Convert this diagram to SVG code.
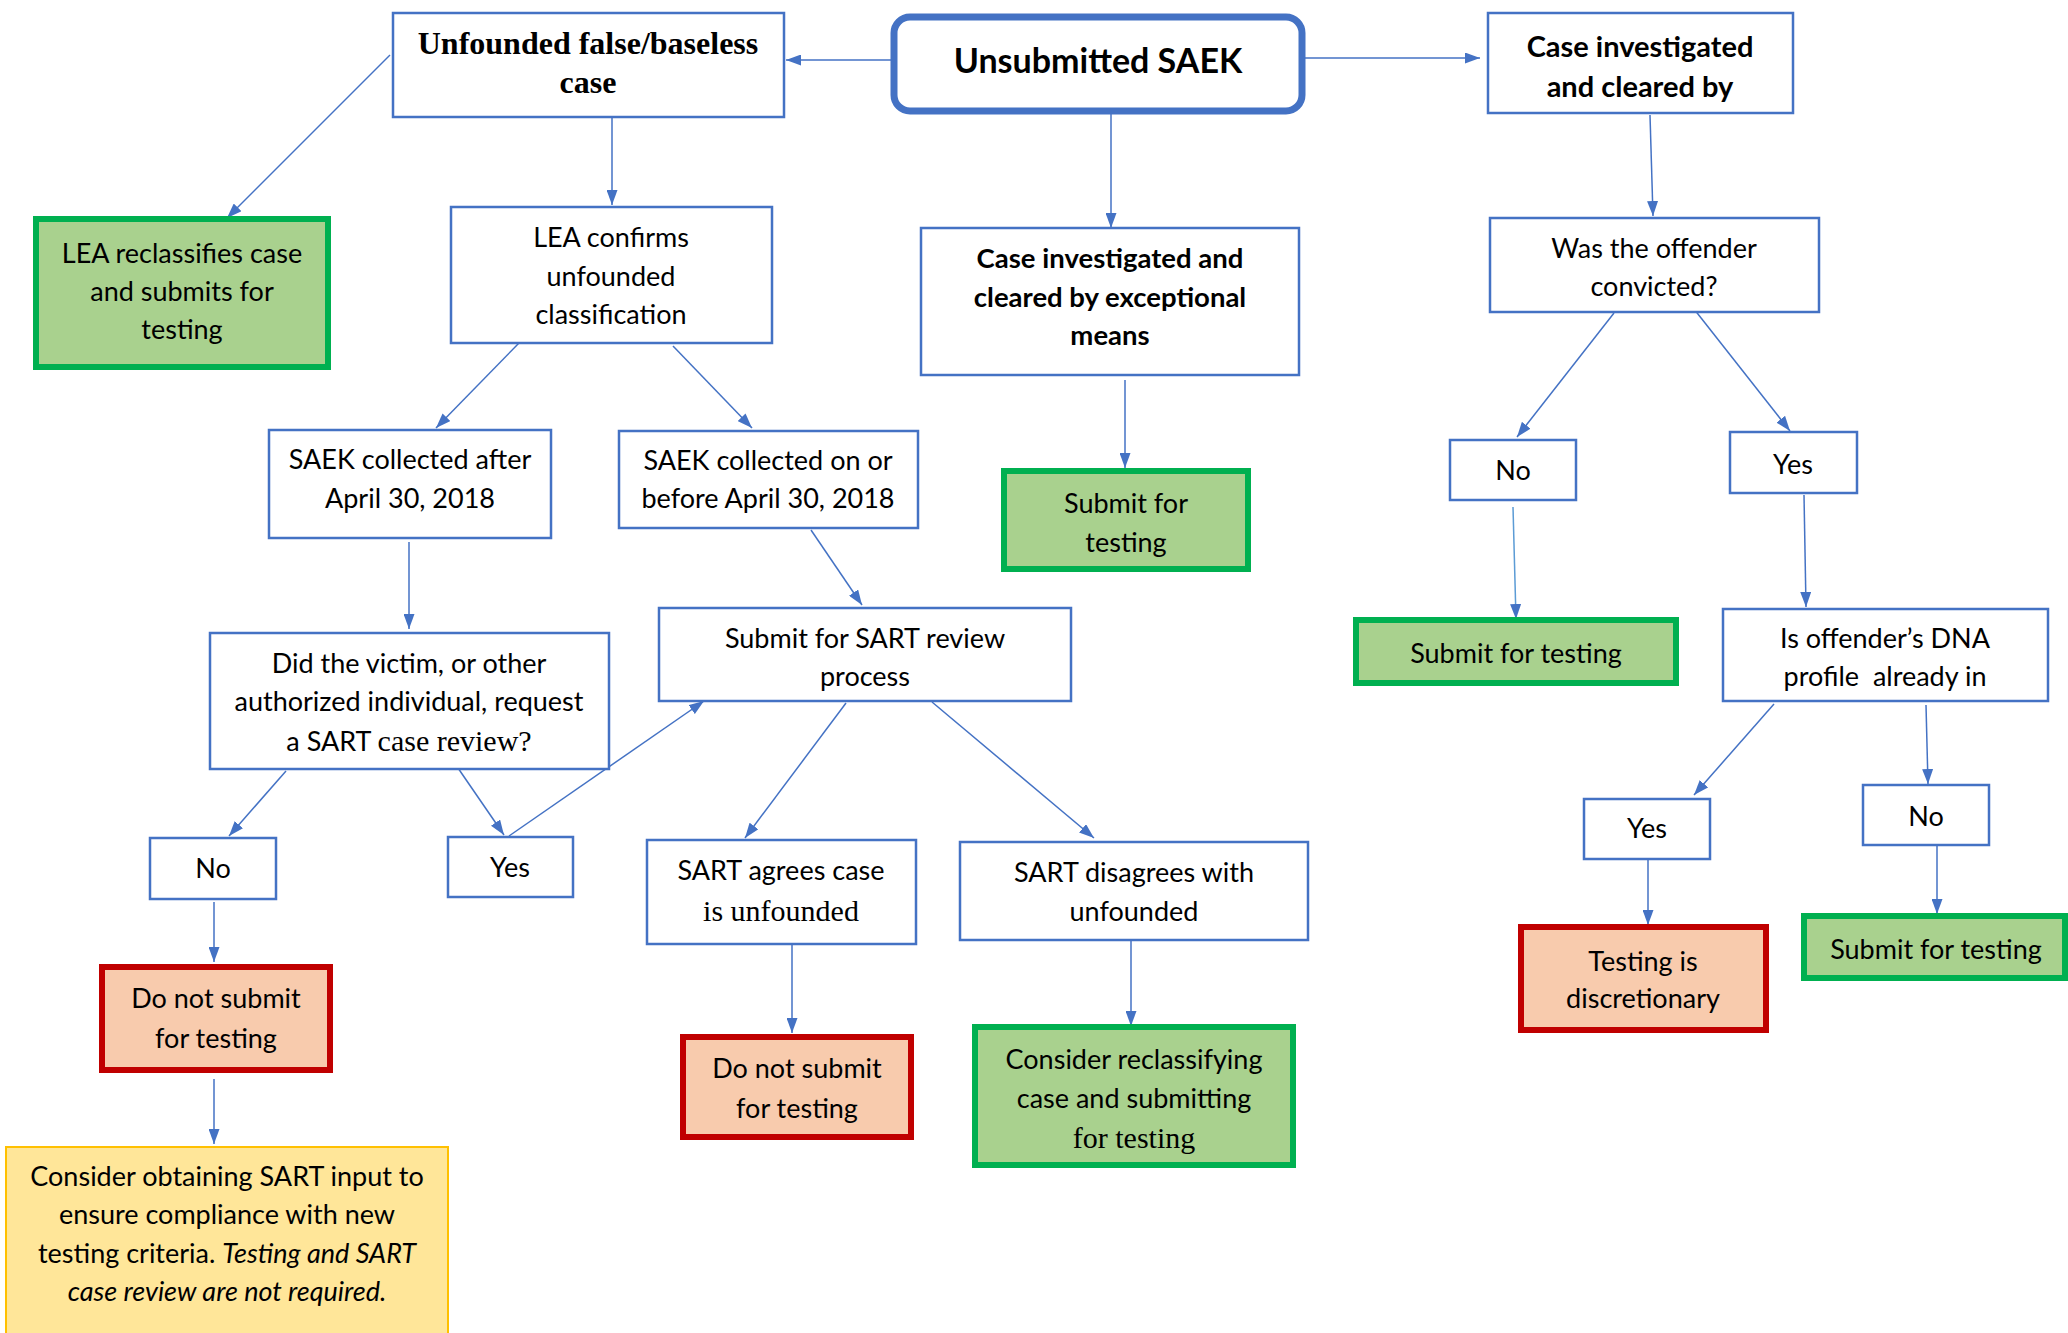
<svg xmlns="http://www.w3.org/2000/svg" width="2068" height="1333" viewBox="0 0 2068 1333">
<style>
.box{fill:#fff;stroke:#4472C4;stroke-width:2.5}
.start{fill:#fff;stroke:#4472C4;stroke-width:7}
.green{fill:#A9D18E;stroke:#00B050;stroke-width:6}
.red{fill:#F8CBAD;stroke:#C00000;stroke-width:6}
.yellow{fill:#FFE699;stroke:#FFC000;stroke-width:2}
text{font-family:Lato,"Liberation Sans",sans-serif;font-size:27px;fill:#000;text-anchor:middle}
.b{font-weight:bold;font-size:29px}
.serif{font-family:"Liberation Serif",serif}
.conn line{stroke:#4472C4;stroke-width:1.5;marker-end:url(#arr)}
</style>
<defs>
<marker id="arr" markerUnits="userSpaceOnUse" markerWidth="15" markerHeight="11" refX="15" refY="5.5" orient="auto">
<path d="M0,0 L15,5.5 L0,11 z" fill="#4472C4"/>
</marker>
</defs>
<rect width="2068" height="1333" fill="#fff"/>
<g class="conn">
<line x1="894" y1="60" x2="786" y2="60"/>
<line x1="1305" y1="58" x2="1480" y2="58"/>
<line x1="1111" y1="113" x2="1111" y2="228"/>
<line x1="390" y1="55" x2="227" y2="218"/>
<line x1="612" y1="117" x2="612" y2="205"/>
<line x1="519" y1="343" x2="436" y2="428"/>
<line x1="673" y1="346" x2="752" y2="428"/>
<line x1="1650" y1="115" x2="1653" y2="216"/>
<line x1="1614" y1="313" x2="1517" y2="437"/>
<line x1="1694" y1="309" x2="1790" y2="431"/>
<line x1="1125" y1="380" x2="1125" y2="468"/>
<line x1="409" y1="542" x2="409" y2="629"/>
<line x1="811" y1="530" x2="862" y2="605"/>
<line x1="1513" y1="507" x2="1516" y2="619" style="stroke:#5B9BD5"/>
<line x1="1804" y1="495" x2="1806" y2="607"/>
<line x1="286" y1="771" x2="229" y2="836"/>
<line x1="458" y1="768" x2="504" y2="835"/>
<line x1="509" y1="836" x2="704" y2="701"/>
<line x1="846" y1="703" x2="745" y2="838"/>
<line x1="932" y1="702" x2="1094" y2="838"/>
<line x1="1774" y1="704" x2="1694" y2="795"/>
<line x1="1926" y1="705" x2="1928" y2="784"/>
<line x1="1648" y1="856" x2="1648" y2="925"/>
<line x1="1937" y1="846" x2="1937" y2="914"/>
<line x1="1131" y1="940" x2="1131" y2="1026"/>
<line x1="792" y1="944" x2="792" y2="1033"/>
<line x1="214" y1="902" x2="214" y2="962"/>
<line x1="214" y1="1079" x2="214" y2="1144"/>
</g>
<g id="n1"><rect class="start" x="894" y="17" width="408" height="94" rx="16"/><text class="b" x="1098" y="73" style="font-size:34px">Unsubmitted SAEK</text></g>
<g id="n2"><rect class="box" x="393" y="13" width="391" height="104"/><text class="serif" x="588" y="54" style="font-weight:bold;font-size:32px">Unfounded false/baseless</text><text class="serif" x="588" y="93" style="font-weight:bold;font-size:32px">case</text></g>
<g id="n3"><rect class="box" x="1488" y="13" width="305" height="100"/><text class="b" x="1640" y="57">Case investigated</text><text class="b" x="1640" y="97">and cleared by</text></g>
<g id="n4"><rect class="green" x="36" y="219" width="292" height="148"/><text x="182" y="263">LEA reclassifies case</text><text x="182" y="301">and submits for</text><text x="182" y="339">testing</text></g>
<g id="n5"><rect class="box" x="451" y="207" width="321" height="136"/><text x="611" y="247">LEA confirms</text><text x="611" y="286">unfounded</text><text x="611" y="324">classification</text></g>
<g id="n6"><rect class="box" x="921" y="228" width="378" height="147"/><text class="b" x="1110" y="268" style="font-size:27.5px">Case investigated and</text><text class="b" x="1110" y="307" style="font-size:27.5px">cleared by exceptional</text><text class="b" x="1110" y="345" style="font-size:27.5px">means</text></g>
<g id="n7"><rect class="box" x="1490" y="218" width="329" height="94"/><text x="1654" y="258">Was the offender</text><text x="1654" y="296">convicted?</text></g>
<g id="n8"><rect class="box" x="269" y="430" width="282" height="108"/><text x="410" y="469">SAEK collected after</text><text x="410" y="508">April 30, 2018</text></g>
<g id="n9"><rect class="box" x="619" y="431" width="299" height="97"/><text x="768" y="470">SAEK collected on or</text><text x="768" y="508">before April 30, 2018</text></g>
<g id="n10"><rect class="green" x="1004" y="471" width="244" height="98"/><text x="1126" y="513">Submit for</text><text x="1126" y="552">testing</text></g>
<g id="n11"><rect class="box" x="1450" y="440" width="126" height="60"/><text x="1513" y="480">No</text></g>
<g id="n12"><rect class="box" x="1730" y="432" width="127" height="61"/><text x="1793" y="474">Yes</text></g>
<g id="n13"><rect class="green" x="1356" y="620" width="320" height="63"/><text x="1516" y="663">Submit for testing</text></g>
<g id="n14"><rect class="box" x="1723" y="609" width="325" height="92"/><text x="1885" y="648">Is offender’s DNA</text><text x="1885" y="686" style="white-space:pre">profile  already in</text></g>
<g id="n15"><rect class="box" x="210" y="633" width="399" height="136"/><text x="409" y="673">Did the victim, or other</text><text x="409" y="711">authorized individual, request</text><text x="409" y="751">a SART <tspan class="serif" style="font-size:30px">case review?</tspan></text></g>
<g id="n16"><rect class="box" x="659" y="608" width="412" height="93"/><text x="865" y="648">Submit for SART review</text><text x="865" y="686">process</text></g>
<g id="n17"><rect class="box" x="150" y="838" width="126" height="61"/><text x="213" y="878">No</text></g>
<g id="n18"><rect class="box" x="448" y="837" width="125" height="60"/><text x="510" y="877">Yes</text></g>
<g id="n19"><rect class="box" x="647" y="840" width="269" height="104"/><text x="781" y="880">SART agrees case</text><text class="serif" x="781" y="921" style="font-size:30px">is unfounded</text></g>
<g id="n20"><rect class="box" x="960" y="842" width="348" height="98"/><text x="1134" y="882">SART disagrees with</text><text x="1134" y="921">unfounded</text></g>
<g id="n21"><rect class="box" x="1584" y="799" width="126" height="60"/><text x="1647" y="838">Yes</text></g>
<g id="n22"><rect class="box" x="1863" y="785" width="126" height="60"/><text x="1926" y="826">No</text></g>
<g id="n23"><rect class="red" x="102" y="967" width="228" height="103"/><text x="216" y="1008">Do not submit</text><text x="216" y="1048">for testing</text></g>
<g id="n24"><rect class="red" x="683" y="1037" width="228" height="100"/><text x="797" y="1078">Do not submit</text><text x="797" y="1118">for testing</text></g>
<g id="n25"><rect class="green" x="975" y="1027" width="318" height="138"/><text x="1134" y="1069">Consider reclassifying</text><text x="1134" y="1108">case and submitting</text><text class="serif" x="1134" y="1148" style="font-size:30px">for testing</text></g>
<g id="n26"><rect class="red" x="1521" y="927" width="245" height="103"/><text x="1643" y="971">Testing is</text><text x="1643" y="1008">discretionary</text></g>
<g id="n27"><rect class="green" x="1804" y="916" width="261" height="62"/><text x="1936" y="959">Submit for testing</text></g>
<g id="n28"><rect class="yellow" x="6" y="1147" width="442" height="192"/><text x="227" y="1186">Consider obtaining SART input to</text><text x="227" y="1224">ensure compliance with new</text><text x="227" y="1263">testing criteria. <tspan font-style="italic">Testing and SART</tspan></text><text x="227" y="1301" font-style="italic">case review are not required.</text></g>
</svg>
